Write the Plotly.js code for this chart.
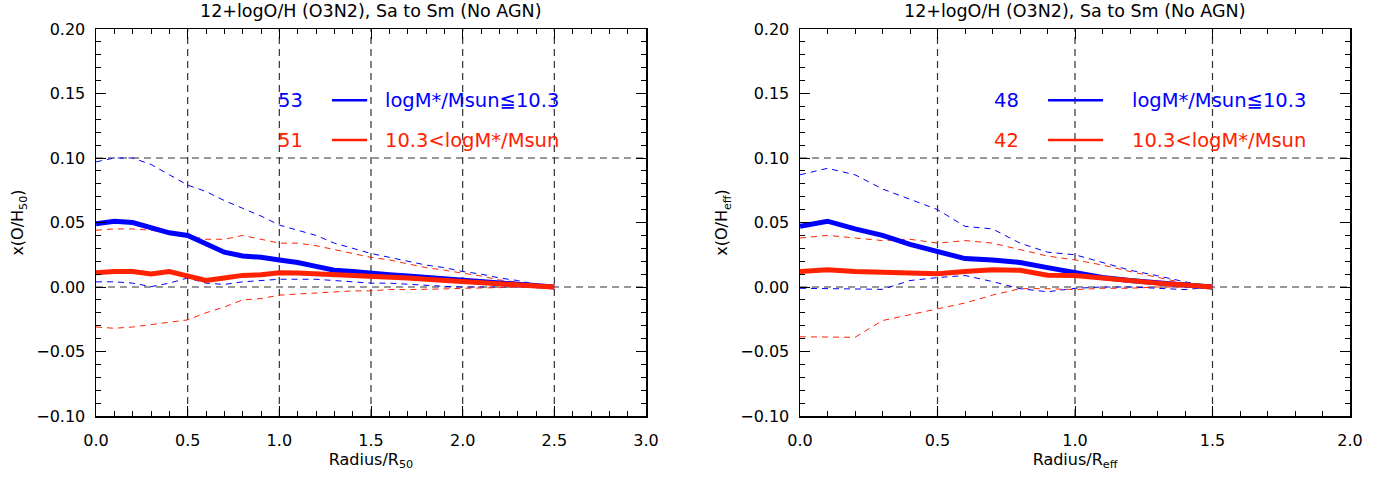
<!DOCTYPE html>
<html><head><meta charset="utf-8">
<script src="https://cdn.plot.ly/plotly-3.0.1.min.js"></script>
<style>body{margin:0;background:#fff}#c{width:1390px;height:477px}</style>
</head><body><div id="c"></div>
<script>
// ---- Left panel (Radius / R50) ----
const xL = [0,0.1,0.2,0.3,0.4,0.5,0.6,0.7,0.8,0.9,1.0,1.1,1.2,1.3,1.4,1.5,1.6,1.7,1.8,1.9,2.0,2.1,2.2,2.3,2.4,2.5];
const blueL    = [0.049,0.051,0.050,0.046,0.042,0.040,0.033,0.027,0.024,0.023,0.021,0.019,0.016,0.013,0.012,0.0105,0.0095,0.0085,0.0075,0.0065,0.0055,0.0045,0.0035,0.0025,0.0012,0.0];
const blueLhi  = [0.097,0.100,0.100,0.095,0.087,0.079,0.074,0.067,0.061,0.055,0.048,0.044,0.040,0.034,0.030,0.026,0.023,0.020,0.017,0.015,0.012,0.010,0.007,0.005,0.002,0.0];
const blueLlo  = [0.004,0.004,0.003,0.0003,0.003,0.007,0.003,0.002,0.004,0.005,0.006,0.006,0.006,0.005,0.004,0.003,0.003,0.002,0.001,0.0005,0.0,0.0,-0.0005,0.0,0.0,0.0];
const redL     = [0.011,0.012,0.012,0.010,0.012,0.008,0.005,0.007,0.009,0.0095,0.011,0.0108,0.0102,0.0097,0.0092,0.0089,0.008,0.007,0.006,0.005,0.004,0.0032,0.0024,0.0016,0.0008,0.0];
const redLhi   = [0.044,0.045,0.045,0.044,0.042,0.040,0.037,0.037,0.040,0.037,0.034,0.034,0.032,0.029,0.026,0.023,0.021,0.018,0.015,0.013,0.011,0.0085,0.0055,0.0035,0.0015,0.0];
const redLlo   = [-0.031,-0.032,-0.031,-0.029,-0.027,-0.0255,-0.020,-0.0155,-0.010,-0.009,-0.0063,-0.0055,-0.0045,-0.0035,-0.003,-0.003,-0.002,-0.002,-0.002,-0.0015,-0.001,-0.001,-0.0005,0.0,0.0,0.0];
// ---- Right panel (Radius / Reff) ----
const xR = [0,0.1,0.2,0.3,0.4,0.5,0.6,0.7,0.8,0.9,1.0,1.1,1.2,1.3,1.4,1.5];
const blueR    = [0.047,0.051,0.045,0.040,0.033,0.027,0.022,0.021,0.019,0.015,0.011,0.0073,0.005,0.003,0.0015,0.0];
const blueRhi  = [0.087,0.092,0.087,0.076,0.068,0.060,0.047,0.045,0.034,0.027,0.025,0.019,0.013,0.0087,0.004,0.0];
const blueRlo  = [-0.001,-0.0013,-0.0013,-0.0018,0.005,0.0073,0.0089,0.0042,-0.0013,-0.0037,-0.001,0.0,0.0,-0.001,-0.002,0.0];
const redR     = [0.012,0.0134,0.012,0.0113,0.0113,0.0102,0.012,0.0134,0.013,0.0092,0.0089,0.0068,0.0055,0.003,0.0015,0.0];
const redRhi   = [0.038,0.040,0.038,0.036,0.037,0.034,0.036,0.034,0.029,0.024,0.021,0.017,0.012,0.0073,0.003,0.0];
const redRlo   = [-0.0386,-0.039,-0.039,-0.026,-0.0215,-0.0168,-0.0124,-0.0063,-0.0013,-0.0013,-0.002,-0.001,-0.001,0.0,0.0,0.0];
// ---- Labels ----
const titleText = "12+logO/H (O3N2), Sa to Sm (No AGN)";
const countsL = ["53","51"];
const countsR = ["48","42"];
const massLabels = ["logM*/Msun≦10.3","10.3<logM*/Msun"];
const xTitles = ["Radius/R<sub>50</sub>","Radius/R<sub>eff</sub>"];
const yTitles = ["x(O/H<sub>50</sub>)","x(O/H<sub>eff</sub>)"];
const yTickVals = [-0.10,-0.05,0.00,0.05,0.10,0.15,0.20];
const gridXL = [0.5,1.0,1.5,2.0,2.5];
const gridXR = [0.5,1.0,1.5];
const gridY = [0.0,0.10];

const BLUE = "#0000ff", RED = "#ff2200";
const FONT = "DejaVu Sans, sans-serif";

function tr(x,y,col,w,dash,xa,ya){
  return {x:x,y:y,type:"scatter",mode:"lines",line:{color:col,width:w,dash:dash},xaxis:xa,yaxis:ya,showlegend:false,hoverinfo:"skip"};
}
const traces = [
  tr(xL,blueLhi,BLUE,1,"6px,5px","x","y"),
  tr(xL,blueLlo,BLUE,1,"6px,5px","x","y"),
  tr(xL,redLhi,RED,1,"6px,5px","x","y"),
  tr(xL,redLlo,RED,1,"6px,5px","x","y"),
  tr(xL,blueL,BLUE,5,"solid","x","y"),
  tr(xL,redL,RED,5,"solid","x","y"),
  tr(xR,blueRhi,BLUE,1,"6px,5px","x2","y2"),
  tr(xR,blueRlo,BLUE,1,"6px,5px","x2","y2"),
  tr(xR,redRhi,RED,1,"6px,5px","x2","y2"),
  tr(xR,redRlo,RED,1,"6px,5px","x2","y2"),
  tr(xR,blueR,BLUE,5,"solid","x2","y2"),
  tr(xR,redR,RED,5,"solid","x2","y2")
];

const shapes = [];
const gridLine = {color:"#333",width:1.2,dash:"7px,5px"};
gridXL.forEach(v=>shapes.push({type:"line",xref:"x",yref:"y domain",x0:v,x1:v,y0:0,y1:1,line:gridLine,layer:"below"}));
gridXR.forEach(v=>shapes.push({type:"line",xref:"x2",yref:"y2 domain",x0:v,x1:v,y0:0,y1:1,line:gridLine,layer:"below"}));
gridY.forEach(v=>{
  shapes.push({type:"line",xref:"x domain",yref:"y",x0:0,x1:1,y0:v,y1:v,line:gridLine,layer:"below"});
  shapes.push({type:"line",xref:"x2 domain",yref:"y2",x0:0,x1:1,y0:v,y1:v,line:gridLine,layer:"below"});
});
// legend sample lines
const legY = [0.816,0.713];
const legCols = [BLUE,RED];
[0,1].forEach(i=>{
  shapes.push({type:"line",xref:"x domain",yref:"y domain",x0:0.429,x1:0.493,y0:legY[i],y1:legY[i],line:{color:legCols[i],width:2.5}});
  shapes.push({type:"line",xref:"x2 domain",yref:"y2 domain",x0:0.451,x1:0.551,y0:legY[i],y1:legY[i],line:{color:legCols[i],width:2.5}});
});

const annotations = [];
const LEGF = 19.5;
[0,1].forEach(i=>{
  annotations.push({xref:"x domain",yref:"y domain",x:0.327,y:legY[i],xanchor:"left",yanchor:"middle",text:countsL[i],showarrow:false,font:{family:FONT,size:LEGF,color:legCols[i]}});
  annotations.push({xref:"x domain",yref:"y domain",x:0.522,y:legY[i],xanchor:"left",yanchor:"middle",text:massLabels[i],showarrow:false,font:{family:FONT,size:LEGF,color:legCols[i]}});
  annotations.push({xref:"x2 domain",yref:"y2 domain",x:0.349,y:legY[i],xanchor:"left",yanchor:"middle",text:countsR[i],showarrow:false,font:{family:FONT,size:LEGF,color:legCols[i]}});
  annotations.push({xref:"x2 domain",yref:"y2 domain",x:0.600,y:legY[i],xanchor:"left",yanchor:"middle",text:massLabels[i],showarrow:false,font:{family:FONT,size:LEGF,color:legCols[i]}});
});
// panel titles
annotations.push({xref:"x domain",yref:"paper",x:0.5,y:1,yshift:6,xanchor:"center",yanchor:"bottom",text:titleText,showarrow:false,font:{family:FONT,size:17.5,color:"#000"}});
annotations.push({xref:"x2 domain",yref:"paper",x:0.5,y:1,yshift:6,xanchor:"center",yanchor:"bottom",text:titleText,showarrow:false,font:{family:FONT,size:17.5,color:"#000"}});

function xax(range,dtick,domain,title,anchor){
  return {domain:domain,range:range,dtick:dtick,tick0:0,tickformat:".1f",anchor:anchor,
    showgrid:false,zeroline:false,showline:true,linecolor:"#000",linewidth:1.5,mirror:"ticks",
    ticks:"inside",ticklen:10,tickwidth:1,tickcolor:"#000",ticklabelstandoff:9,
    minor:{dtick:0.1,ticklen:5,ticks:"inside",tickcolor:"#000",tickwidth:1,showgrid:false},
    tickfont:{family:FONT,size:16,color:"#000"},
    title:{text:title,font:{family:FONT,size:16,color:"#000"},standoff:4}};
}
function yax(domain,title,anchor){
  return {domain:domain,range:[-0.10,0.20],tickvals:yTickVals,tickformat:".2f",anchor:anchor,
    showgrid:false,zeroline:false,showline:true,linecolor:"#000",linewidth:1.5,mirror:"ticks",
    ticks:"inside",ticklen:10,tickwidth:1,tickcolor:"#000",ticklabelstandoff:6,
    minor:{dtick:0.01,tick0:0,ticklen:5,ticks:"inside",tickcolor:"#000",tickwidth:1,showgrid:false},
    tickfont:{family:FONT,size:16,color:"#000"},
    title:{text:title,font:{family:FONT,size:16,color:"#000"},standoff:8}};
}

const layout = {
  width:1390,height:477,
  margin:{l:0,r:0,t:29,b:61},
  paper_bgcolor:"#fff",plot_bgcolor:"#fff",
  showlegend:false,
  xaxis:xax([0,3],0.5,[96/1390,646/1390],xTitles[0],"y"),
  yaxis:yax([0,1],yTitles[0],"x"),
  xaxis2:xax([0,2],0.5,[800/1390,1350/1390],xTitles[1],"y2"),
  yaxis2:yax([0,1],yTitles[1],"x2"),
  shapes:shapes,
  annotations:annotations
};
Plotly.newPlot("c",traces,layout,{staticPlot:true});
</script></body></html>
